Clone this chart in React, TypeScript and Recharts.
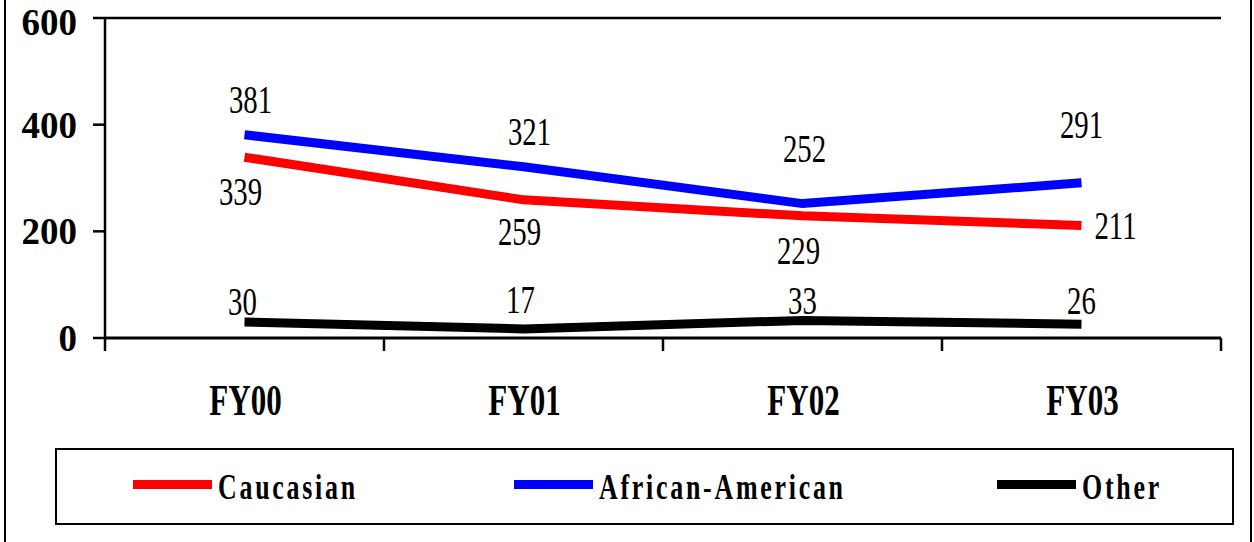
import { LineChart, Line, XAxis, YAxis, LabelList, ReferenceLine } from 'recharts';

const categories = ['FY00', 'FY01', 'FY02', 'FY03'];
const caucasian = [339, 259, 229, 211];
const africanAmerican = [381, 321, 252, 291];
const other = [30, 17, 33, 26];
const yTicks = [0, 200, 400, 600];

const data = categories.map((name, i) => ({
  name,
  caucasian: caucasian[i],
  africanAmerican: africanAmerican[i],
  other: other[i],
}));

const FONT = '"Liberation Serif", "Times New Roman", serif';
const HALF_BAND = 139.5;

// label placement tweaks (relative to each point)
const labelShift: Record<string, { dx: number[]; dy: number[] }> = {
  africanAmerican: { dx: [6, 6, 2, 0], dy: [-35, -35, -55, -58] },
  caucasian: { dx: [-4, -4, -4, 34], dy: [34, 32, 35, 0] },
  other: { dx: [-2, -3, 0, 0], dy: [-21, -29, -20, -24] },
};

const makeLabel = (key: string) => (props: any) => {
  const { x, y, value, index } = props;
  const s = labelShift[key];
  const lx = x + s.dx[index];
  const ly = y + s.dy[index] + 13.5;
  return (
    <text
      transform={`translate(${lx},${ly}) scale(0.72,1)`}
      textAnchor="middle"
      fontFamily={FONT}
      fontSize={40}
      fill="#000"
    >
      {value}
    </text>
  );
};

const CategoryTick = (props: any) => {
  const { x, y, payload, index } = props;
  const last = index === categories.length - 1;
  return (
    <g>
      <line x1={x - HALF_BAND} x2={x - HALF_BAND} y1={y} y2={y + 13} stroke="#000" strokeWidth={2.5} />
      {last && (
        <line x1={x + HALF_BAND} x2={x + HALF_BAND} y1={y} y2={y + 13} stroke="#000" strokeWidth={2.5} />
      )}
      <text
        transform={`translate(${x + 1},${y + 77}) scale(0.69,1)`}
        textAnchor="middle"
        fontFamily={FONT}
        fontWeight="bold"
        fontSize={45}
        fill="#000"
      >
        {payload.value}
      </text>
    </g>
  );
};

const legendItems = [
  { label: 'Caucasian', color: '#ff0000', left: 76 },
  { label: 'African-American', color: '#0000ff', left: 457 },
  { label: 'Other', color: '#000000', left: 940 },
];

export default function App() {
  return (
    <div
      style={{
        position: 'absolute',
        left: 0,
        top: 0,
        width: 1254,
        height: 542,
        overflow: 'hidden',
        background: '#fff',
      }}
    >
      <div
        style={{
          position: 'absolute',
          left: 4,
          top: -4,
          width: 1248,
          height: 552,
          border: '2px solid #000',
          boxSizing: 'border-box',
        }}
      />
      <div style={{ position: 'absolute', left: 0, top: 0 }}>
        <LineChart width={1254} height={542} data={data} margin={{ top: 18, right: 33, bottom: 0, left: 0 }}>
          <XAxis
            dataKey="name"
            height={204}
            padding={{ left: HALF_BAND, right: HALF_BAND }}
            tickLine={false}
            tickSize={0}
            tickMargin={0}
            axisLine={{ stroke: '#000', strokeWidth: 3 }}
            tick={<CategoryTick />}
            interval={0}
          />
          <YAxis
            width={105}
            domain={[0, 600]}
            ticks={yTicks}
            tickSize={12}
            tickMargin={16}
            tickLine={{ stroke: '#000', strokeWidth: 2.5 }}
            axisLine={{ stroke: '#000', strokeWidth: 2.5 }}
            tick={{ fill: '#000', fontSize: 37, fontWeight: 'bold', fontFamily: FONT }}
          />
          <YAxis
            yAxisId="right"
            orientation="right"
            width={0}
            domain={[0, 600]}
            tick={false}
            tickLine={false}
            axisLine={{ stroke: '#000', strokeWidth: 2.5 }}
          />
          <ReferenceLine y={600} stroke="#000" strokeWidth={2.5} />
          <Line
            type="linear"
            dataKey="caucasian"
            stroke="#ff0000"
            strokeWidth={9}
            dot={false}
            isAnimationActive={false}
          >
            <LabelList dataKey="caucasian" content={makeLabel('caucasian')} />
          </Line>
          <Line
            type="linear"
            dataKey="africanAmerican"
            stroke="#0000ff"
            strokeWidth={9}
            dot={false}
            isAnimationActive={false}
          >
            <LabelList dataKey="africanAmerican" content={makeLabel('africanAmerican')} />
          </Line>
          <Line
            type="linear"
            dataKey="other"
            stroke="#000000"
            strokeWidth={9}
            dot={false}
            isAnimationActive={false}
          >
            <LabelList dataKey="other" content={makeLabel('other')} />
          </Line>
        </LineChart>
      </div>
      <div
        style={{
          position: 'absolute',
          left: 55,
          top: 448,
          width: 1179,
          height: 77,
          border: '2.5px solid #000',
          boxSizing: 'border-box',
        }}
      >
        {legendItems.map((it) => (
          <div key={it.label} style={{ position: 'absolute', left: it.left, top: 0 }}>
            <div
              style={{
                position: 'absolute',
                left: 0,
                top: 30,
                width: 79,
                height: 9,
                background: it.color,
              }}
            />
            <span
              style={{
                position: 'absolute',
                left: 85,
                top: 19,
                whiteSpace: 'nowrap',
                fontFamily: FONT,
                fontWeight: 'bold',
                fontSize: 36,
                lineHeight: '36px',
                letterSpacing: 3.8,
                transform: 'scaleX(0.72)',
                transformOrigin: 'left center',
                color: '#000',
              }}
            >
              {it.label}
            </span>
          </div>
        ))}
      </div>
    </div>
  );
}
